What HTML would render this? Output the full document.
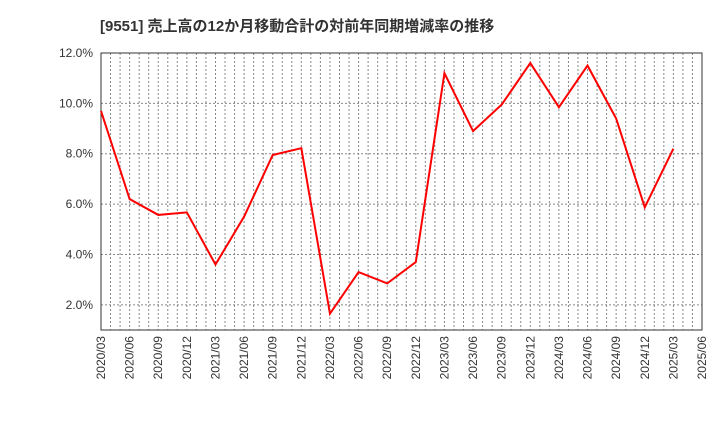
<!DOCTYPE html>
<html><head><meta charset="utf-8"><style>
body{margin:0;background:#fff;}
svg{font-family:"Liberation Sans","Noto Sans CJK JP",sans-serif;}
</style></head><body>
<svg width="720" height="440">
<text x="100" y="31" font-size="15" font-weight="bold" fill="#333">[9551]  売上高の12か月移動合計の対前年同期増減率の推移</text>
<g id="grid"></g>
<g id="axes"></g>
<path id="line" fill="none" stroke="#f00" stroke-width="2"/>
</svg>
<script>
const categories=["2020/03","2020/06","2020/09","2020/12","2021/03","2021/06","2021/09","2021/12","2022/03","2022/06","2022/09","2022/12","2023/03","2023/06","2023/09","2023/12","2024/03","2024/06","2024/09","2024/12","2025/03","2025/06"];
const values=[9.7,6.2,5.57,5.67,3.6,5.5,7.95,8.22,1.65,3.3,2.85,3.7,11.2,8.9,9.95,11.6,9.85,11.5,9.4,5.87,8.2];
const yTicks=[2,4,6,8,10,12];
const yLabels=["2.0%","4.0%","6.0%","8.0%","10.0%","12.0%"];
const L=101,R=702,T=53,B=330,yMin=1,yMax=12;
const xs=i=>L+(R-L)*i/(categories.length-1);
const ys=v=>B-(v-yMin)/(yMax-yMin)*(B-T);
const NS="http://www.w3.org/2000/svg";
const grid=document.getElementById('grid'),axes=document.getElementById('axes');
function mk(tag,a,p){const e=document.createElementNS(NS,tag);for(const k in a)e.setAttribute(k,a[k]);p.appendChild(e);return e;}
const nMonths=(categories.length-1)*3;
for(let m=1;m<nMonths;m++){const x=L+(R-L)*m/nMonths;
const g=mk('line',{x1:x,x2:x,y1:T,y2:B,stroke:'#888','stroke-dasharray':'2,2','stroke-width':1},grid);

}
yTicks.forEach((v,i)=>{const y=ys(v);
const g=mk('line',{x1:L,x2:R,y1:y,y2:y,stroke:'#888','stroke-dasharray':'2,2','stroke-width':1},grid);


const t=mk('text',{x:L-8,y:y+4,'font-size':12,fill:'#333','text-anchor':'end'},axes);t.textContent=yLabels[i];

});
categories.forEach((c,i)=>{const x=xs(i);
const t=mk('text',{transform:`translate(${x+4},${B+6}) rotate(-90)`,'font-size':12,fill:'#333','text-anchor':'end'},axes);t.textContent=c;

});
const fr=mk('rect',{x:L,y:T,width:R-L,height:B-T,fill:'none',stroke:'#333','stroke-width':1},axes);


document.getElementById('line').setAttribute('d',values.map((v,i)=>(i?'L':'M')+xs(i)+','+ys(v)).join(''));
</script>
</body></html>
